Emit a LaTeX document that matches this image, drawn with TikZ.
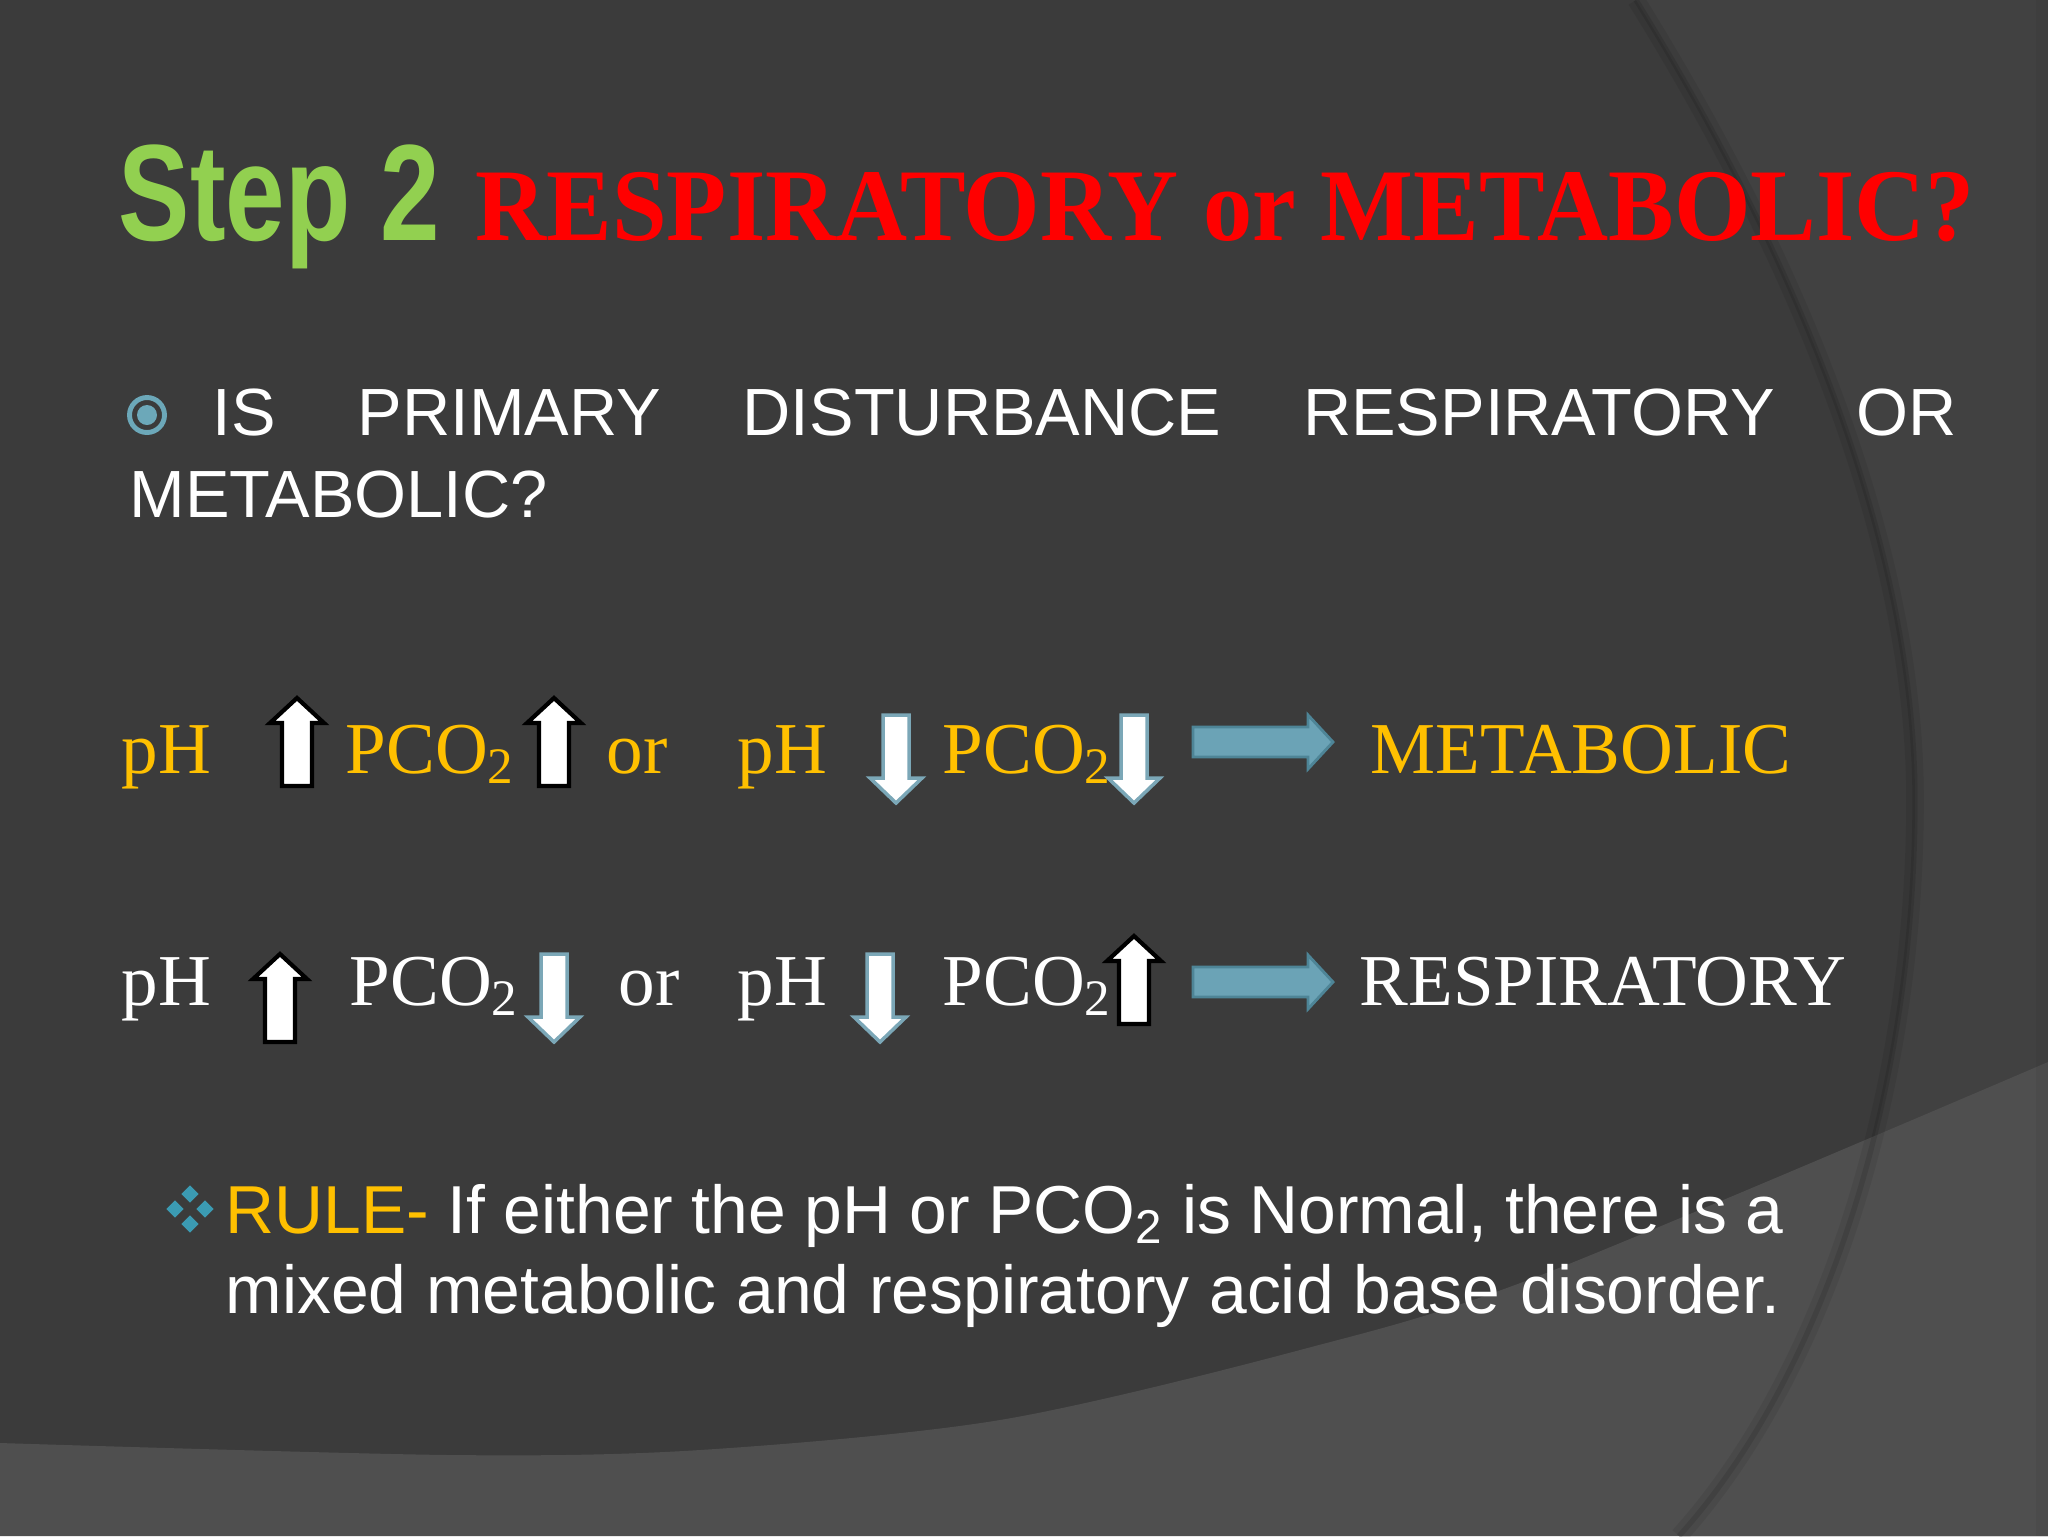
\documentclass[tikz,border=0pt]{standalone}
\usepackage{fontspec}
\setmainfont{Liberation Serif}
\setsansfont{Liberation Sans}
\usetikzlibrary{shapes.geometric}
\definecolor{slidebg}{HTML}{3B3B3B}
\definecolor{arcside}{HTML}{414141}
\definecolor{floorgray}{HTML}{4F4F4F}
\definecolor{stepgreen}{HTML}{92D050}
\definecolor{titlered}{HTML}{FF0000}
\definecolor{valyel}{HTML}{FFC000}
\definecolor{arrblue}{HTML}{6BA3B6}
\definecolor{arrblueline}{HTML}{4E8597}
\definecolor{downline}{HTML}{7BA7B7}
\definecolor{bulletblue}{HTML}{6CA8B9}
\definecolor{diamondblue}{HTML}{3B9BB3}
\tikzstyle{heading} = [anchor=base west, inner sep=0pt, font=\sffamily\bfseries\fontsize{39pt}{47pt}\selectfont, text=stepgreen]
\tikzstyle{question} = [anchor=base west, inner sep=0pt, font=\bfseries\fontsize{29.3pt}{35pt}\selectfont, text=titlered]
\tikzstyle{bullettext} = [anchor=base west, inner sep=0pt, font=\sffamily\fontsize{19pt}{23pt}\selectfont, text=white]
\tikzstyle{ruletext} = [bullettext, font=\sffamily\fontsize{19.3pt}{23pt}\selectfont]
\tikzstyle{metrow} = [anchor=base west, inner sep=0pt, font=\fontsize{20.8pt}{25pt}\selectfont, text=valyel]
\tikzstyle{resrow} = [metrow, text=white]
\tikzstyle{rise} = [fill=white, draw=black, line width=1.2pt]
\tikzstyle{fall} = [fill=white, draw=downline, line width=1pt]
\tikzstyle{leadsto} = [fill=arrblue, draw=arrblueline, line width=0.8pt]
\tikzstyle{gem} = [diamond, fill=diamondblue, minimum size=1.8mm, inner sep=0pt]
\tikzset{
  uparr/.pic={\draw[rise] (-15,44) -- (-15,-19) -- (-27,-19) -- (0,-44) -- (27,-19) -- (15,-19) -- (15,44) -- cycle;},
  downarr/.pic={\draw[fall] (-13,-44) -- (-13,19) -- (-26,19) -- (0,44) -- (26,19) -- (13,19) -- (13,-44) -- cycle;},
  rightarr/.pic={\draw[leadsto] (-70,-15) -- (45,-15) -- (45,-27) -- (70,0) -- (45,27) -- (45,15) -- (-70,15) -- cycle;}
}
\newcommand{\bigarc}{(1636,0) .. controls (1810,280) and (1915,560) .. (1915,800) .. controls (1915,1100) and (1820,1380) .. (1679,1536)}

\begin{document}
\begin{tikzpicture}[x=0.1mm, y=-0.1mm]

\useasboundingbox (0,0) rectangle (2048,1536);
\clip (0,0) rectangle (2048,1536);
\fill[slidebg] (0,0) rectangle (2048,1536);
\fill[arcside] \bigarc -- (2048,1536) -- (2048,0) -- cycle;
\fill[floorgray] plot[smooth] coordinates {(0,1443) (450,1455) (700,1450) (1000,1420) (1300,1350) (1536,1277) (2048,1062)} -- (2048,1536) -- (0,1536) -- cycle;
\fill[black, opacity=0.04] (2036,0) rectangle (2048,1536);
\draw[black, opacity=0.07, line width=5pt] \bigarc;
\draw[black, opacity=0.1, line width=1.5pt] \bigarc;

\node (step) [heading] at (118,240) {\scalebox{0.78}[1]{Step 2}};
\node (quest) [question] at (475,240) {\scalebox{0.955}[1]{RESPIRATORY or METABOLIC?}};

\node (ring) [circle, draw=bulletblue, line width=1.4pt, minimum size=3.5mm, inner sep=0pt] at (147,415) {};
\node (dot) [circle, fill=bulletblue, minimum size=2mm, inner sep=0pt] at (147,415) {};
\node (isline) [bullettext] at (212,435) {\makebox[174.4mm][s]{IS PRIMARY DISTURBANCE RESPIRATORY OR}};
\node (isline2) [bullettext] at (129,517) {METABOLIC?};

\node (ph1) [metrow] at (121,773) {pH};
\pic (up1) at (297,742) {uparr};
\node (pco1) [metrow] at (345,773) {PCO\textsubscript{2}};
\pic (up2) at (554,742) {uparr};
\node (or1) [metrow] at (606,773) {or};
\node (ph2) [metrow] at (737,773) {pH};
\pic (dn1) at (896,759) {downarr};
\node (pco2) [metrow] at (942,773) {PCO\textsubscript{2}};
\pic (dn2) at (1134,759) {downarr};
\pic (go1) at (1263,742) {rightarr};
\node (met) [metrow] at (1370,773) {METABOLIC};

\node (ph3) [resrow] at (121,1005) {pH};
\pic (up3) at (280,998) {uparr};
\node (pco3) [resrow] at (349,1005) {PCO\textsubscript{2}};
\pic (dn3) at (554,998) {downarr};
\node (or2) [resrow] at (618,1005) {or};
\node (ph4) [resrow] at (737,1005) {pH};
\pic (dn4) at (880,998) {downarr};
\node (pco4) [resrow] at (942,1005) {PCO\textsubscript{2}};
\pic (up4) at (1134,980) {uparr};
\pic (go2) at (1263,982) {rightarr};
\node (resp) [resrow] at (1359,1005) {RESPIRATORY};

\foreach \gx/\gy in {190/1194, 175/1209, 205/1209, 190/1224}
  \node [gem] at (\gx,\gy) {};
\node (rule1) [ruletext] at (225,1233) {\makebox[155.8mm][s]{\textcolor{valyel}{RULE-} If either the pH or PCO\textsubscript{2} is Normal, there is a}};
\node (rule2) [ruletext] at (225,1313) {\makebox[155.5mm][s]{mixed metabolic and respiratory acid base disorder.}};

\end{tikzpicture}
\end{document}
